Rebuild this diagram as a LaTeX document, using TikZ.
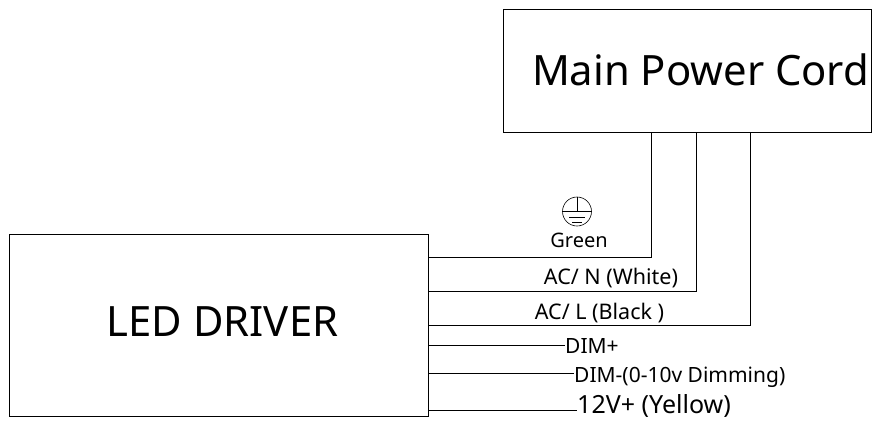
\documentclass[tikz,border=0pt]{standalone}
\usepackage{fontspec}
\setmainfont{Noto Sans}
\begin{document}
\begin{tikzpicture}[x=1pt,y=-1pt,
	boxnode/.style={draw,inner sep=0pt},
	boxtext/.style={inner sep=0pt,font=\fontsize{41.8}{42}\selectfont},
	wire/.style={line width=0.8pt},
	wirelabel/.style={inner sep=0pt,font=\fontsize{21.5}{23}\selectfont},
	gndline/.style={line width=0.6pt}]
	\useasboundingbox (0,0) rectangle (878,421);
	\node[boxnode,minimum width=368,minimum height=123] (cord) at (687,70.5) {};
	\node[boxnode,minimum width=419,minimum height=182] (driver) at (219,325.5) {};
	\node[boxtext] (cordtext) at (700.5,70) {Main Power Cord};
	\node[boxtext] (drivertext) at (222.5,322) {LED DRIVER};
	\coordinate (gndin) at (428.5,257);
	\coordinate (nin) at (428.5,291);
	\coordinate (lin) at (428.5,325);
	\coordinate (dimpin) at (428.5,345);
	\coordinate (dimnin) at (428.5,373);
	\coordinate (yin) at (428.5,410.5);
	\coordinate (gndout) at (651,132);
	\coordinate (nout) at (696,132);
	\coordinate (lout) at (750,132);
	\draw[wire] (gndin) -| (gndout);
	\draw[wire] (nin) -| (nout);
	\draw[wire] (lin) -| (lout);
	\node[wirelabel,anchor=west,font=\fontsize{21}{23}\selectfont] (dimp) at (565,346) {DIM+};
	\node[wirelabel,anchor=west,font=\fontsize{21}{23}\selectfont] (dimn) at (574,377) {DIM-(0-10v Dimming)};
	\node[wirelabel,anchor=west,font=\fontsize{25}{27}\selectfont] (yellow) at (577,405.5) {12V+ (Yellow)};
	\draw[wire] (dimpin) -- (dimp.west |- dimpin);
	\draw[wire] (dimnin) -- (dimn.west |- dimnin);
	\draw[wire] (yin) -- (yellow.west |- yin);
	\node[wirelabel,font=\fontsize{20}{22}\selectfont] (green) at (579,240) {Green};
	\node[wirelabel] (nlabel) at (611,278) {AC/ N (White)};
	\node[wirelabel] (llabel) at (599.5,313) {AC/ L (Black )};
	\node[draw,circle,minimum size=29,inner sep=0pt,gndline] (gnd) at (577,211.5) {};
	\draw[gndline] (gnd.west) -- (gnd.east);
	\draw[gndline] (gnd.north) -- (gnd.center);
	\draw[gndline] (569,217) -- (585,217);
	\draw[gndline] (572,222) -- (582,222);
\end{tikzpicture}
\end{document}
